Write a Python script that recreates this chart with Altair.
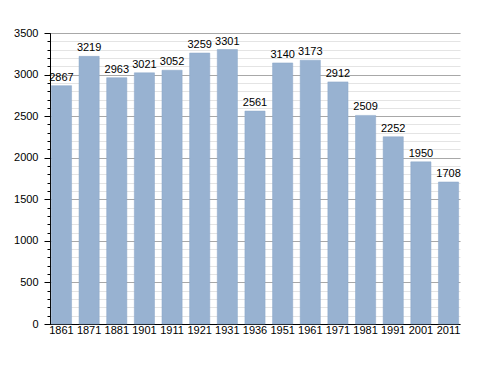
import altair as alt
import pandas as pd

years = ["1861", "1871", "1881", "1901", "1911", "1921", "1931", "1936",
         "1951", "1961", "1971", "1981", "1991", "2001", "2011"]
population = [2867, 3219, 2963, 3021, 3052, 3259, 3301, 2561,
              3140, 3173, 2912, 2509, 2252, 1950, 1708]

df = pd.DataFrame({"year": years, "pop": population})

minor_vals = list(range(0, 3501, 100))
major_vals = list(range(0, 3501, 500))

xenc = alt.X("year:N", sort=None, title=None,
             scale=alt.Scale(paddingInner=0.27, paddingOuter=0.05),
             axis=alt.Axis(labelAngle=0, ticks=False, domainColor="black",
                           labelFont="Liberation Sans", labelFontSize=11,
                           labelColor="black", labelPadding=0))

yscale = alt.Scale(domain=[0, 3500], nice=False)

bars = alt.Chart(df).mark_bar(color="#98b2d1", stroke="#8aa6c8", strokeWidth=0.5).encode(
    x=xenc,
    y=alt.Y("pop:Q", title=None, scale=yscale,
            axis=alt.Axis(values=minor_vals, labels=False, tickSize=3,
                          tickColor="black", domain=False, grid=True,
                          gridColor="#e4e4e4", gridWidth=1, orient="left")),
)

text = alt.Chart(df).mark_text(baseline="bottom", dy=-3, font="Liberation Sans",
                               fontSize=11, color="black").encode(
    x=alt.X("year:N", sort=None),
    y=alt.Y("pop:Q", title=None, scale=yscale,
            axis=alt.Axis(values=major_vals, format="d", tickSize=6, tickColor="black",
                          domainColor="black", grid=True, gridColor="#a8a8a8",
                          labelFont="Liberation Sans", labelFontSize=11,
                          labelColor="black", labelPadding=6, orient="left")),
    text=alt.Text("pop:Q", format="d"),
)

chart = alt.layer(bars, text).resolve_axis(y="independent").properties(
    width=410, height=291,
    autosize=alt.AutoSizeParams(type="none"),
    padding={"left": 42, "top": 25, "right": 20, "bottom": 30},
).configure_view(stroke=None)

chart.save("out.html", embed_options={"renderer": "svg", "actions": False})
